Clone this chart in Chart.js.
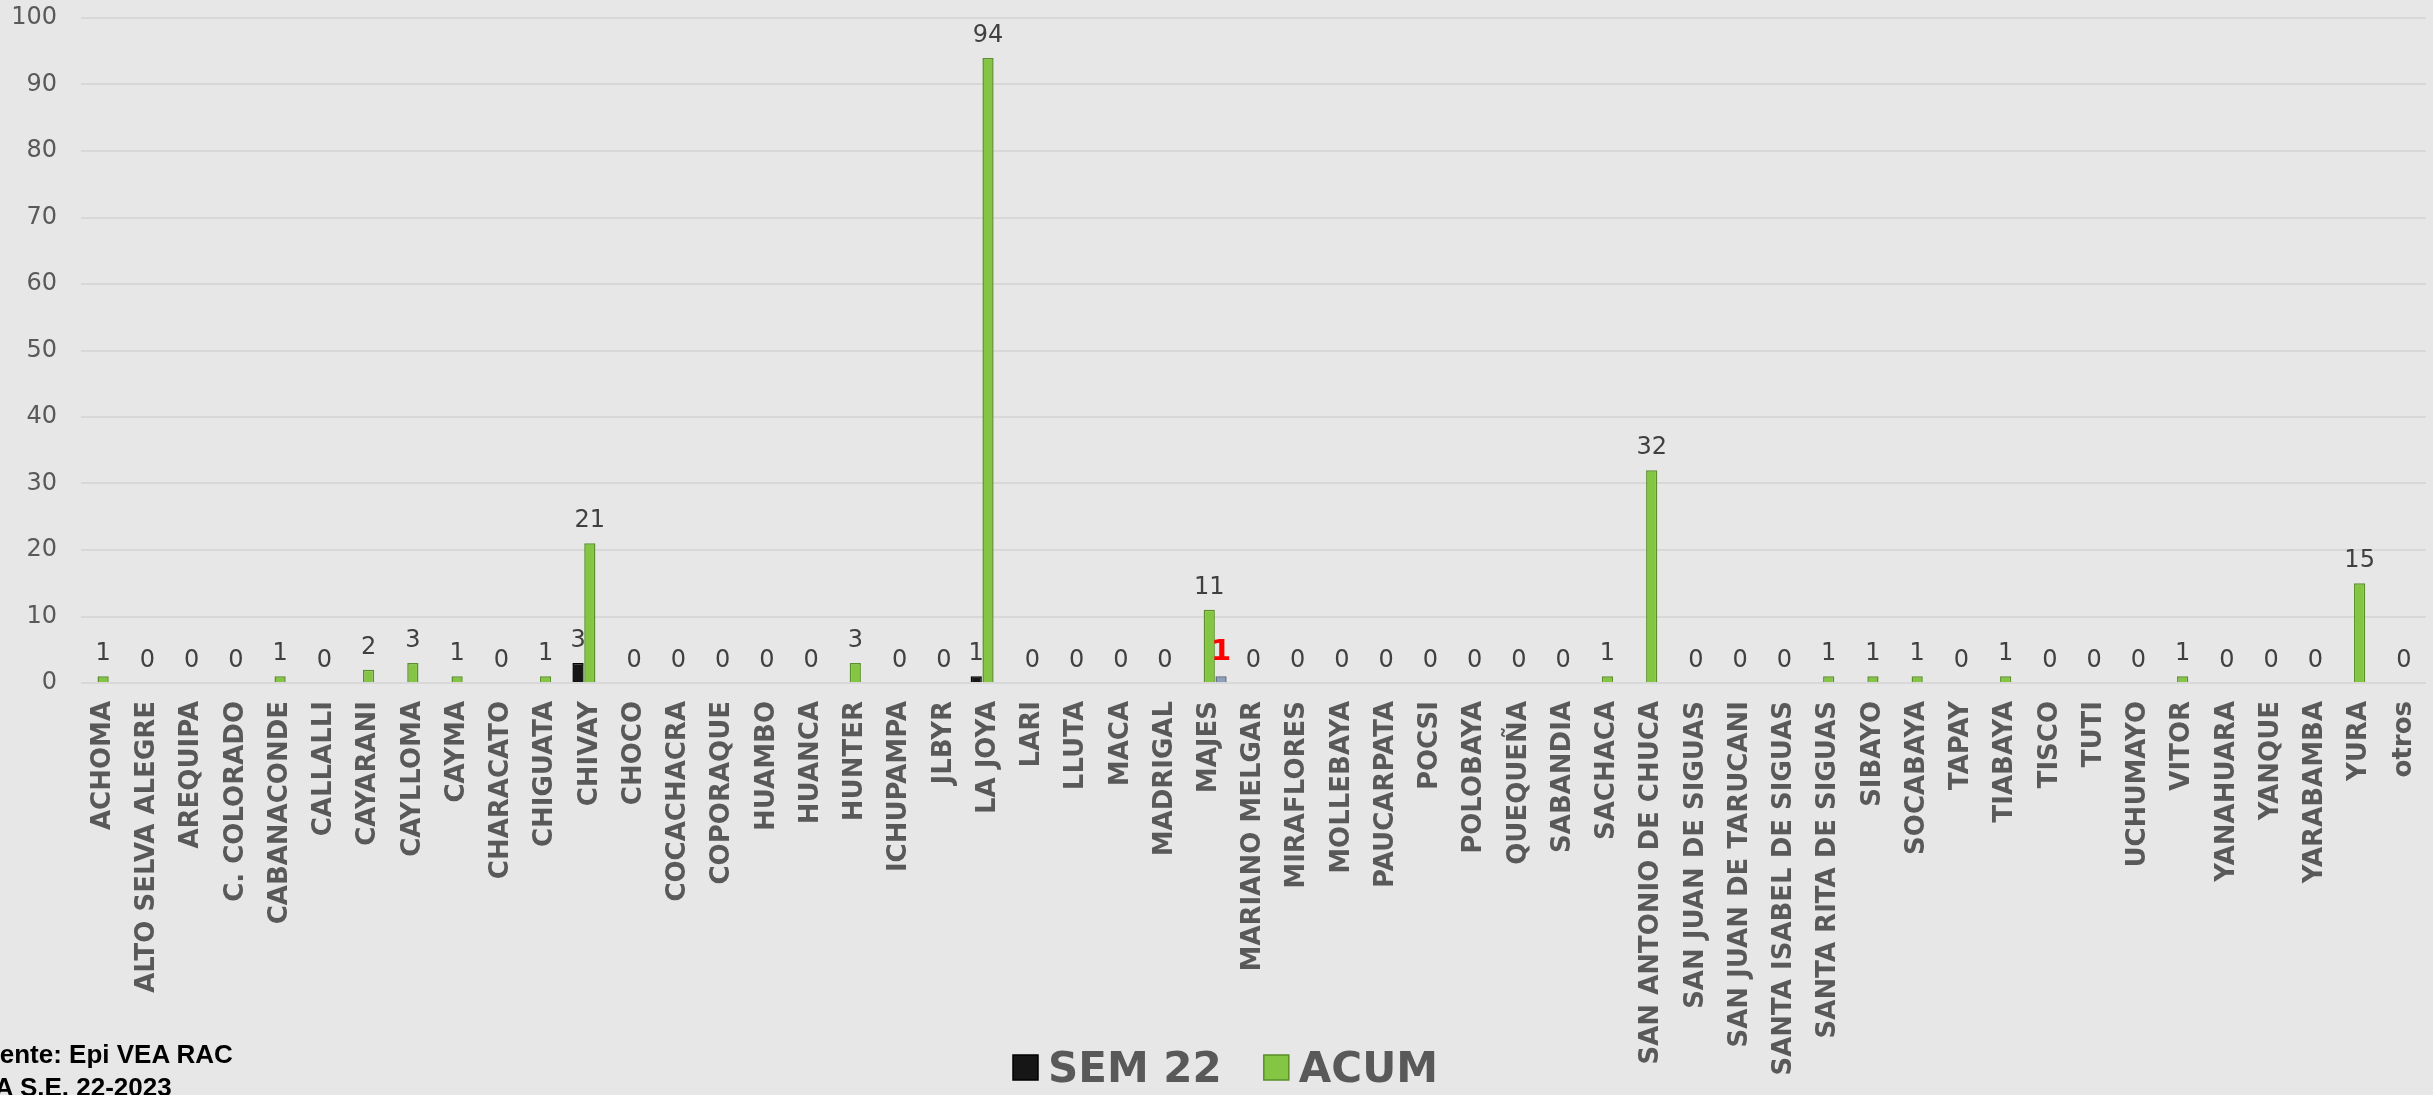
<!DOCTYPE html>
<html lang="es">
<head>
<meta charset="utf-8">
<title>Casos por distrito - SE 22 2023</title>
<script src="https://cdn.jsdelivr.net/npm/chart.js@4.4.1/dist/chart.umd.min.js"></script>
<style>
  body { margin: 0; background: #e7e7e7; overflow: hidden; }
  .contenedor { position: relative; width: 2433px; height: 1095px; }
  .fuente { position: absolute; font: bold 26px "Liberation Sans", Arial, sans-serif; color: #000; line-height: 32px; white-space: nowrap; }
</style>
</head>
<body>
<div class="contenedor">
  <canvas id="grafico"></canvas>
  <div class="fuente" style="left:-32px; top:1038px;">Fuente: Epi VEA RAC</div>
  <div class="fuente" style="left:-74px; top:1071px;">HASTA S.E. 22-2023</div>
</div>
<script>
// Distritos
const distritos = [
  "ACHOMA", "ALTO SELVA ALEGRE", "AREQUIPA", "C. COLORADO", "CABANACONDE", "CALLALLI",
  "CAYARANI", "CAYLLOMA", "CAYMA", "CHARACATO", "CHIGUATA", "CHIVAY", "CHOCO",
  "COCACHACRA", "COPORAQUE", "HUAMBO", "HUANCA", "HUNTER", "ICHUPAMPA", "JLBYR",
  "LA JOYA", "LARI", "LLUTA", "MACA", "MADRIGAL", "MAJES", "MARIANO MELGAR",
  "MIRAFLORES", "MOLLEBAYA", "PAUCARPATA", "POCSI", "POLOBAYA", "QUEQUEÑA",
  "SABANDIA", "SACHACA", "SAN ANTONIO DE CHUCA", "SAN JUAN DE SIGUAS",
  "SAN JUAN DE TARUCANI", "SANTA ISABEL DE SIGUAS", "SANTA RITA DE SIGUAS",
  "SIBAYO", "SOCABAYA", "TAPAY", "TIABAYA", "TISCO", "TUTI", "UCHUMAYO", "VITOR",
  "YANAHUARA", "YANQUE", "YARABAMBA", "YURA", "otros"
];

// Casos de la semana 22
const sem22 = [
  0, 0, 0, 0, 0, 0, 0, 0, 0, 0, 0, 3, 0,
  0, 0, 0, 0, 0, 0, 0, 1, 0, 0, 0, 0, 0, 0,
  0, 0, 0, 0, 0, 0, 0, 0, 0, 0, 0, 0, 0,
  0, 0, 0, 0, 0, 0, 0, 0, 0, 0, 0, 0, 0
];

// Acumulado
const acum = [
  1, 0, 0, 0, 1, 0, 2, 3, 1, 0, 1, 21, 0,
  0, 0, 0, 0, 3, 0, 0, 94, 0, 0, 0, 0, 11, 0,
  0, 0, 0, 0, 0, 0, 0, 1, 32, 0, 0, 0, 1,
  1, 1, 0, 1, 0, 0, 0, 1, 0, 0, 0, 15, 0
];

// Serie extra (solo MAJES, etiqueta en rojo)
const sem22Extra = [
  0, 0, 0, 0, 0, 0, 0, 0, 0, 0, 0, 0, 0,
  0, 0, 0, 0, 0, 0, 0, 0, 0, 0, 0, 0, 1, 0,
  0, 0, 0, 0, 0, 0, 0, 0, 0, 0, 0, 0, 0,
  0, 0, 0, 0, 0, 0, 0, 0, 0, 0, 0, 0, 0
];

const ejeY = { min: 0, max: 100, paso: 10 };

// etiquetas encima de las barras
const etiquetas = {
  id: "etiquetas",
  afterDatasetsDraw(chart) {
    const ctx = chart.ctx;
    ctx.save();
    ctx.textAlign = "center";
    ctx.textBaseline = "alphabetic";
    chart.data.datasets.forEach((ds, i) => {
      const meta = chart.getDatasetMeta(i);
      meta.data.forEach((bar, j) => {
        const v = ds.data[j];
        if (i !== 1 && v <= 0) return;
        if (i === 2) {
          ctx.font = "bold 29px 'DejaVu Sans'";
          ctx.fillStyle = "#ff0000";
        } else {
          ctx.font = "24px 'DejaVu Sans'";
          ctx.fillStyle = "#404040";
        }
        ctx.fillText(v, bar.x, bar.y - 16);
      });
    });
    ctx.restore();
  }
};

// leyenda abajo
const leyenda = {
  id: "leyenda",
  afterDraw(chart) {
    const ctx = chart.ctx;
    ctx.save();
    ctx.font = "bold 42px 'DejaVu Sans'";
    ctx.textBaseline = "alphabetic";
    let x = 1013;
    [0, 1].forEach(i => {
      const ds = chart.data.datasets[i];
      ctx.fillStyle = ds.backgroundColor;
      ctx.fillRect(x, 1055, 25, 25);
      ctx.strokeStyle = ds.borderColor;
      ctx.lineWidth = 1.5;
      ctx.strokeRect(x, 1055, 25, 25);
      ctx.fillStyle = "#595959";
      ctx.fillText(ds.label, x + 35, 1082);
      x += 35 + ctx.measureText(ds.label).width + 42;
    });
    ctx.restore();
  }
};

const anchoBorde = (c) => (c.raw > 0 ? 1.5 : 0);

// quitar el relleno automatico de las escalas
const sinRelleno = (scale) => {
  scale.paddingTop = 0;
  scale.paddingBottom = 0;
  scale.paddingLeft = 0;
  scale.paddingRight = 0;
};

new Chart(document.getElementById("grafico"), {
  type: "bar",
  data: {
    labels: distritos,
    datasets: [
      {
        label: "SEM 22",
        data: sem22,
        backgroundColor: "#161616",
        borderColor: "#000000",
        borderWidth: anchoBorde,
        borderSkipped: "bottom"
      },
      {
        label: "ACUM",
        data: acum,
        backgroundColor: "#84c644",
        borderColor: "#5a8f29",
        borderWidth: anchoBorde,
        borderSkipped: "bottom"
      },
      {
        label: "extra",
        data: sem22Extra,
        backgroundColor: "#8da0b8",
        borderColor: "#5b6b80",
        borderWidth: anchoBorde,
        borderSkipped: "bottom"
      }
    ]
  },
  options: {
    responsive: true,
    maintainAspectRatio: false,
    animation: false,
    datasets: {
      bar: {
        categoryPercentage: 0.8,
        barPercentage: 0.95
      }
    },
    layout: {
      padding: { top: 18, right: 7, left: 0, bottom: 0 }
    },
    plugins: {
      legend: { display: false },
      tooltip: { enabled: false }
    },
    scales: {
      x: {
        grid: { display: false, drawTicks: false },
        border: { display: false },
        ticks: {
          autoSkip: false,
          minRotation: 90,
          maxRotation: 90,
          padding: 18,
          color: "#595959",
          font: { family: "DejaVu Sans", size: 26, weight: "bold" }
        },
        afterFit: (scale) => { scale.height = 412; sinRelleno(scale); }
      },
      y: {
        min: ejeY.min,
        max: ejeY.max,
        grid: { color: "#d8d8d8", lineWidth: 2, drawTicks: false },
        border: { display: false },
        ticks: {
          stepSize: ejeY.paso,
          padding: 24,
          color: "#595959",
          font: { family: "DejaVu Sans", size: 24 }
        },
        afterFit: (scale) => { scale.width = 81; sinRelleno(scale); }
      }
    }
  },
  plugins: [etiquetas, leyenda]
});
</script>
</body>
</html>
